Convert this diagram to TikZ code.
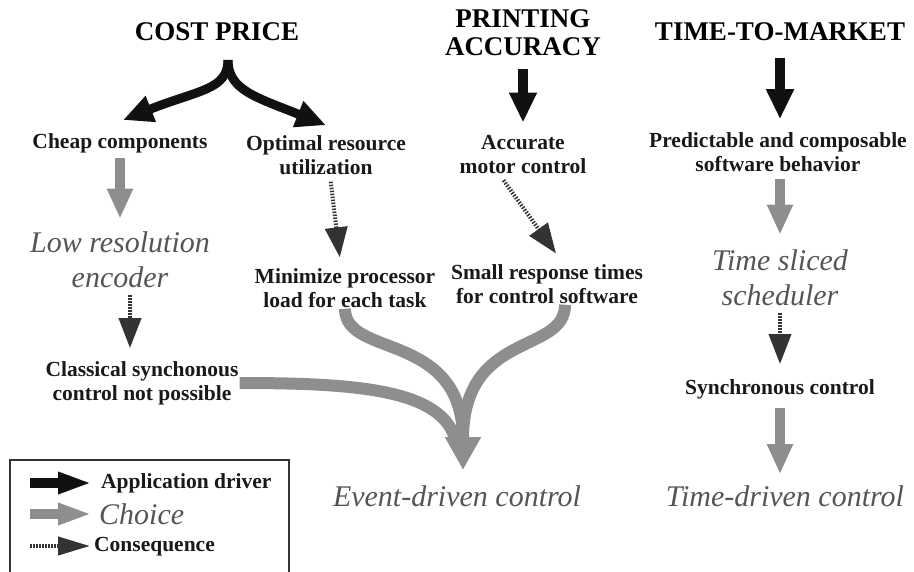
\documentclass[tikz,border=0pt]{standalone}
\usepackage{fontspec}
\setmainfont{Liberation Serif}
\usetikzlibrary{arrows.meta}

\definecolor{drvcol}{HTML}{111111}
\definecolor{chccol}{HTML}{8E8E8E}
\definecolor{csqcol}{HTML}{333333}
\definecolor{chctext}{HTML}{555555}

\tikzset{
  drv/.style={font=\fontsize{27}{28}\selectfont\bfseries, align=center, inner sep=1pt},
  lbl/.style={font=\fontsize{21.5}{24}\selectfont\bfseries, text=black!90, align=center, inner sep=1pt},
  chc/.style={font=\fontsize{30}{35}\selectfont\itshape, text=chctext, align=center, inner sep=1pt},
  drvarrow/.style={draw=drvcol, line width=10pt, -{Triangle[length=30pt,width=26pt]}},
  chcarrow/.style={draw=chccol, line width=10pt, -{Triangle[length=30pt,width=24pt]}},
  csqarrow/.style={draw=csqcol, line width=4pt, dash pattern=on 1.5pt off 1.5pt,
    -{Triangle[length=30pt,width=22pt,fill=csqcol]}},
}

\begin{document}
\begin{tikzpicture}[x=1pt,y=-1pt]
  \useasboundingbox (0,0) rectangle (914,571);

  % drivers
  \node[drv] (cost)  at (217,32) {COST PRICE};
  \node[drv] (print) at (523,33) {PRINTING\\ACCURACY};
  \node[drv] (ttm)   at (780,32) {TIME-TO-MARKET};

  % requirements
  \node[lbl] (cheap)   at (120,143) {Cheap components};
  \node[lbl] (optim)   at (326,155) {Optimal resource\\utilization};
  \node[lbl] (motor)   at (523,155) {Accurate\\motor control};
  \node[lbl] (predict) at (778,152) {Predictable and composable\\software behavior};

  % choices and consequences
  \node[chc] (lowres)  at (120,260) {Low resolution\\encoder};
  \node[lbl] (minim)   at (345,288) {Minimize processor\\load for each task};
  \node[lbl] (small)   at (547,284) {Small response times\\for control software};
  \node[chc] (sliced)  at (780,278) {Time sliced\\scheduler};
  \node[lbl] (classic) at (142,383) {Classical synchonous\\control not possible};
  \node[lbl] (sync)    at (780,389) {Synchronous control};
  \node[chc] (event)   at (457,496) {Event-driven control};
  \node[chc] (timedr)  at (785,496) {Time-driven control};

  \coordinate (fork) at (228,60);
  \coordinate (meet) at (463,470);

  % application drivers
  \draw[drvarrow, line width=9pt] (fork) .. controls +(0,30) and +(75,-30) .. ([xshift=3pt,yshift=12pt]cheap.north);
  \draw[drvarrow, line width=9pt] (fork) .. controls +(0,30) and +(-70,-28) .. ([yshift=9pt]optim.north);
  \draw[drvarrow, shorten <=12pt, shorten >=12pt] (print.south) -- (motor.north);
  \draw[drvarrow, shorten <=16pt, shorten >=12pt] (ttm.south) -- (ttm.south |- predict.north);

  % choices
  \draw[chcarrow, shorten <=4pt, shorten >=12pt] (cheap.south) -- (cheap.south |- lowres.north);
  \draw[chcarrow, shorten <=6pt, shorten >=14pt] ([xshift=2pt]predict.south) -- (sliced.north);
  \draw[chcarrow, shorten <=8pt, shorten >=10pt] (sync.south) -- (sync.south |- timedr.north);
  \draw[chccol, line width=12pt, shorten >=30pt] (classic.east) .. controls +(120,0) and +(-20,-80) .. (meet);
  \draw[chccol, line width=12pt, shorten >=30pt] (minim.south) .. controls +(0,50) and +(0,-140) .. (meet);
  \draw[chcarrow, line width=12pt, -{Triangle[length=33pt,width=34pt]}]
    ([xshift=18pt]small.south) .. controls +(0,50) and +(0,-140) .. (meet);

  % consequences
  \draw[csqarrow, shorten <=6pt, shorten >=10pt] ([xshift=4pt]optim.south) -- ([xshift=-4pt]minim.north);
  \draw[csqarrow, shorten <=6pt, shorten >=12pt] ([xshift=-23pt]motor.south) -- ([xshift=16pt]small.north);
  \draw[csqarrow, shorten <=6pt, shorten >=12pt] ([xshift=10pt]lowres.south) -- ([xshift=-12pt]classic.north);
  \draw[csqarrow, shorten <=6pt, shorten >=14pt] (sliced.south) -- (sliced.south |- sync.north);

  % legend
  \draw[line width=1.2pt, black!80] (10,575) -- (10,460) -- (289,460) -- (289,575);
  \coordinate (lgda) at (30,483);  \coordinate (lgdb) at (92,483);
  \coordinate (lgca) at (30,514);  \coordinate (lgcb) at (92,514);
  \coordinate (lgqa) at (30,546);  \coordinate (lgqb) at (90,546);
  \draw[drvarrow, -{Triangle[length=34pt,width=20pt]}] (lgda) -- (lgdb);
  \draw[chcarrow, -{Triangle[length=34pt,width=20pt]}] (lgca) -- (lgcb);
  \draw[csqarrow, -{Triangle[length=32pt,width=18pt,fill=csqcol]}] (lgqa) -- (lgqb);
  \node[lbl, anchor=west] (lgdrv) at (100,483) {Application driver};
  \node[chc, anchor=west] (lgchc) at (98,514) {Choice};
  \node[lbl, anchor=west] (lgcsq) at (93,547) {Consequence};
\end{tikzpicture}
\end{document}
